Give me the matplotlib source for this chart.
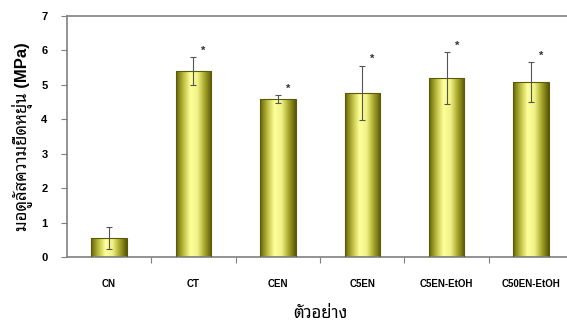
import numpy as np
import matplotlib
matplotlib.use("Agg")
import matplotlib.pyplot as plt
from matplotlib.colors import LinearSegmentedColormap

samples = ["CN", "CT", "CEN", "C5EN", "C5EN-EtOH", "C50EN-EtOH"]
modulus = [0.54, 5.40, 4.58, 4.77, 5.20, 5.08]
sd = [0.32, 0.41, 0.12, 0.79, 0.76, 0.59]
significant = [False, True, True, True, True, True]

thai = ["Liberation Sans", "Noto Sans Thai Looped"]
plt.rcParams["font.family"] = thai

bar_cmap = LinearSegmentedColormap.from_list(
    "olive", ["#656508", "#bcbc40", "#ffff9a", "#f2f288", "#a8a82c", "#585806"])

fig = plt.figure(figsize=(5.67, 3.25), dpi=100)
ax = fig.add_axes([0.118, 0.209, 0.893, 0.742])

x = np.arange(len(samples))
width = 0.42
bars = ax.bar(x, modulus, width=width, color="none", edgecolor="#5a5a08",
              linewidth=0.8, zorder=3)
grad = np.linspace(0, 1, 64).reshape(1, -1)
for b in bars:
    im = ax.imshow(grad, cmap=bar_cmap, aspect="auto", zorder=2,
                   extent=[b.get_x(), b.get_x() + b.get_width(), 0, b.get_height()])
    im.set_clip_path(b)

ax.errorbar(x, modulus, yerr=sd, fmt="none", ecolor="#555555", elinewidth=0.8,
            capsize=2, capthick=0.8, zorder=4)

for xi, m, s, sig in zip(x, modulus, sd, significant):
    if sig:
        ax.text(xi + 0.12, m + s + 0.18, "*", ha="center", va="center",
                fontsize=8, fontweight="bold", color="#333333")

ax.set_xlim(-0.5, len(samples) - 0.5)
ax.set_ylim(0, 7)
ax.set_yticks(range(8))
ax.set_xticks(np.arange(0.5, len(samples) - 0.5, 1.0))
ax.set_xticklabels([])
ax.set_xticks(x, minor=True)
ax.set_xticklabels(samples, minor=True, fontsize=7, fontweight="bold")
ax.tick_params(axis="x", which="minor", length=0, pad=16)
ax.tick_params(axis="x", which="major", length=4, color="#808080", direction="out")
ax.tick_params(axis="y", length=4, color="#808080", labelsize=8, pad=10)
for lab in ax.get_yticklabels():
    lab.set_fontweight("bold")

for side in ["left", "top", "bottom", "right"]:
    ax.spines[side].set_color("#808080")
    ax.spines[side].set_linewidth(1.2)

ax.set_ylabel("มอดูลัสความยืดหยุ่น (MPa)", fontsize=12, fontweight="bold",
              labelpad=6)
ax.set_xlabel("ตัวอย่าง", fontsize=12, labelpad=12)

fig.savefig("out.png", dpi=100)
